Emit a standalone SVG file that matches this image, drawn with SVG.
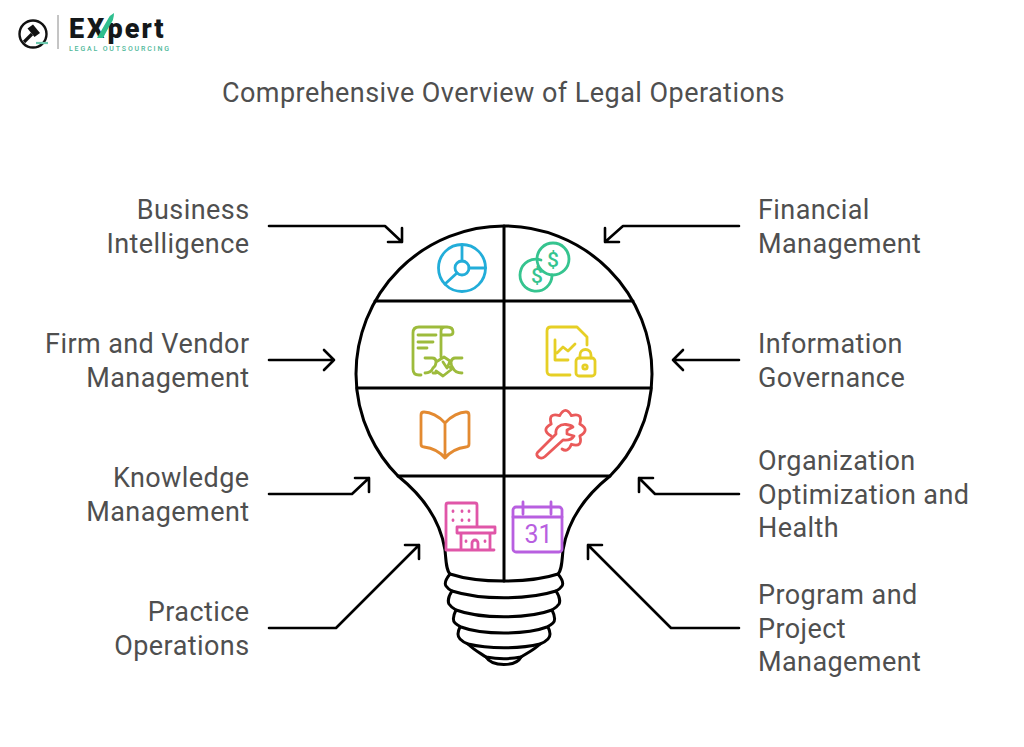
<svg xmlns="http://www.w3.org/2000/svg" width="1024" height="747" viewBox="0 0 1024 747">
<style>
.t{font-family:Roboto,"Liberation Sans",sans-serif;font-size:27px;fill:#4f4f4f;letter-spacing:.42px}
.r{text-anchor:end}
.b{fill:none;stroke:#000;stroke-width:3;stroke-linecap:round;stroke-linejoin:round}
.a{fill:none;stroke:#000;stroke-width:2.6;stroke-linecap:round;stroke-linejoin:round}
.i{fill:none;stroke-width:2.8;stroke-linecap:round;stroke-linejoin:round}
</style>
<rect width="1024" height="747" fill="#fff"/>
<g id="logo">
<circle cx="33" cy="34" r="13.500" fill="none" stroke="#111" stroke-width="2.4"/>
<path d="M27.500 28.500L33 24.500L40 33L34.500 37Z" fill="#111"/>
<path d="M32 34L24 42" stroke="#111" stroke-width="3.200"/>
<path d="M36 43H48" stroke="#6cc7ad" stroke-width="2.200"/>
<path d="M58 15V49" stroke="#8a8a8a" stroke-width="1"/>
<text y="37.500" font-family="Roboto,'Liberation Sans',sans-serif" font-size="27" font-weight="900" fill="#14181a"><tspan x="69">E</tspan><tspan x="87">X</tspan><tspan x="107.500" letter-spacing="2">pert</tspan></text>
<path d="M97 38L108 19Q110 15 114 13Q114 20 110 25L103 38Z" fill="#2fbf8f"/>
<text x="69" y="50.500" font-family="Roboto,'Liberation Sans',sans-serif" font-size="7" font-weight="500" fill="#4fb89a" textLength="100" lengthAdjust="spacing">LEGAL OUTSOURCING</text>
</g>
<text id="title" x="503.500" y="101.500" text-anchor="middle" style="font-family:Roboto,'Liberation Sans',sans-serif;font-size:27px;fill:#4f4f4f;letter-spacing:.45px">Comprehensive Overview of Legal Operations</text>
<g id="bulb">
<path class="b" d="M398 476C378 456 356 420 356 374A148 148 0 0 1 652 374C652 420 630 456 610 476C580 500 567 525 563 550C562 560 562 570 558 574C540 580 520 581 504 581C488 581 468 580 450 574C446 570 446 560 445 550C441 525 428 500 398 476Z"/>
<path class="b" d="M504 226V581M375 301H633M357 388H651M398 476H610"/>
<path class="b" d="M450 574C446 579 444 583 446 586C448 589 450 590 452 591C480 600 528 600 556 591C558 590 560 589 562 586C564 583 562 579 558 574"/>
<path class="b" d="M452 591C448 597 448 602 449 604C451 607 454 609 456 610C480 619 528 619 552 610C554 609 557 607 559 604C560 602 560 597 556 591"/>
<path class="b" d="M456 610C453 616 453 621 455 623C457 625 459 626 461 627C482 635 526 635 547 627C549 626 551 625 553 623C555 621 555 616 552 610"/>
<path class="b" d="M460 627C457 633 458 637 460 639C462 641 465 643 468 644C488 649 520 649 540 644C543 643 546 641 548 639C550 637 551 633 548 627"/>
<path class="b" d="M468 644C474 650 480 653 486 657C497 659 511 659 521 657C527 653 534 650 540 644"/>
<path class="b" d="M486 657C492 667 516 667 521 657"/>
</g>
<g id="connectors">
<path class="a" d="M269 226H385L402 242M388 242H402V228"/>
<path class="a" d="M269 360H334M324 350L334 360L324 370"/>
<path class="a" d="M269 494H352L369 478M355 478H369V492"/>
<path class="a" d="M269 628H336L419 545M405 545H419V559"/>
<path class="a" d="M739 226H623L605 242M619 242H605V228"/>
<path class="a" d="M739 360H673M683 350L673 360L683 370"/>
<path class="a" d="M739 494H655L639 478M653 478H639V492"/>
<path class="a" d="M739 628H671L588 545M602 545H588V559"/>
</g>
<g id="node-bi">
<text class="t r" x="249.500" y="218.500">Business</text><text class="t r" x="249.500" y="252.500">Intelligence</text>
<g class="i" stroke="#22add9"><circle cx="462" cy="268" r="23.500"/><circle cx="462" cy="268" r="7"/><path d="M462 245V261M469 268H485.500M457 273L445 284"/></g>
</g>
<g id="node-fm">
<text class="t" x="758" y="218.500">Financial</text><text class="t" x="758" y="252.500">Management</text>
<g class="i" stroke="#35c48f"><path d="M541 260A16 16 0 1 0 552 275"/><circle cx="553" cy="259" r="16"/>
<text x="553" y="266.500" text-anchor="middle" font-family="Roboto,sans-serif" font-size="21" font-weight="500" fill="#35c48f" stroke="none">$</text>
<text x="537" y="283" text-anchor="middle" font-family="Roboto,sans-serif" font-size="21" font-weight="500" fill="#35c48f" stroke="none">$</text></g>
</g>
<g id="node-fv">
<text class="t r" x="249.500" y="352.500">Firm and Vendor</text><text class="t r" x="249.500" y="386.500">Management</text>
<g class="i" stroke="#9dbb3c"><path d="M445 327H419Q413 327 413 333V369Q413 375 419 375H421M441 357V331Q441 327 445 327H447Q453 327 453 332Q453 335 450 335H442M418 335H436M418 342H433M418 348H427"/>
<path d="M425 358H432Q436 358 436 362Q436 366 433 368Q431 373 425 373M462 358H455Q452 358 451 362Q451 366 453 368Q455 373 462 373M436 362L444 357L450 361L448 366L452 369L443 376L436 371M433 373H436M443 362L447 368"/></g>
</g>
<g id="node-ig">
<text class="t" x="758" y="352.500">Information</text><text class="t" x="758" y="386.500">Governance</text>
<g class="i" stroke="#e6cf25"><path d="M570 375H551Q547 375 547 371V331Q547 327 551 327H577L587 337V345"/><path d="M555 340V360H568M557 353L563 347L568 351L575 344"/><rect x="576" y="358" width="19" height="18" rx="3"/><path d="M580 358V355A5.500 5.500 0 0 1 591 355V358"/><circle cx="585" cy="367" r="2.200"/></g>
</g>
<g id="node-km">
<text class="t r" x="249.500" y="486.500">Knowledge</text><text class="t r" x="249.500" y="520.500">Management</text>
<g class="i" stroke="#e38a31"><path d="M445 423C439 416 430 412 424 412Q421 412 421 415V444Q421 447 424 447C432 448 440 452 445 458C450 452 458 448 466 447Q469 447 469 444V415Q469 412 466 412C460 412 451 416 445 423V458"/></g>
</g>
<g id="node-oo">
<text class="t" x="758" y="469.500">Organization</text><text class="t" x="758" y="503.500">Optimization and</text><text class="t" x="758" y="536.500">Health</text>
<g class="i" stroke="#ea5a5a"><path d="M551.200 435.900Q540.500 430 551.200 424.100Q547.800 412.300 559.600 415.700Q565.500 405 571.400 415.700Q583.200 412.300 579.800 424.100Q590.500 430 579.800 435.900Q583.200 447.700 571.400 444.300Q568 453 562 449"/><path d="M537.500 452.500L556 434C555 428 560 424 566 424.500Q571 425 573 427L567 430V434L574 436Q571 441 563 440L545 456.500Q542 459 539 457.500Q535.500 455 537.500 452.500Z"/></g>
</g>
<g id="node-pr">
<text class="t r" x="249.500" y="620.500">Practice</text><text class="t r" x="249.500" y="654.500">Operations</text>
<g class="i" stroke="#e056a8"><path d="M446 550V505Q446 503 448 503H475Q477 503 477 505V526M446 550H494M461 533V550M490 533V550M457 527H495V533H457ZM453 511V511.500M462 511V511.500M469 511V511.500M453 520V520.500M462 520V520.500M469 520V520.500M466 541V541.500M485 541V541.500M472 550V543A3 3 0 0 1 478 543V550"/></g>
</g>
<g id="node-pp">
<text class="t" x="758" y="603.500">Program and</text><text class="t" x="758" y="637.500">Project</text><text class="t" x="758" y="670.500">Management</text>
<g class="i" stroke="#b85fe0"><rect x="513" y="507" width="49" height="45" rx="3"/><path d="M513 517H562M523 502V514M551 502V514"/>
<text x="538.500" y="543" text-anchor="middle" font-family="Roboto,sans-serif" font-size="25" fill="#b85fe0" stroke="none">31</text></g>
</g>
</svg>
